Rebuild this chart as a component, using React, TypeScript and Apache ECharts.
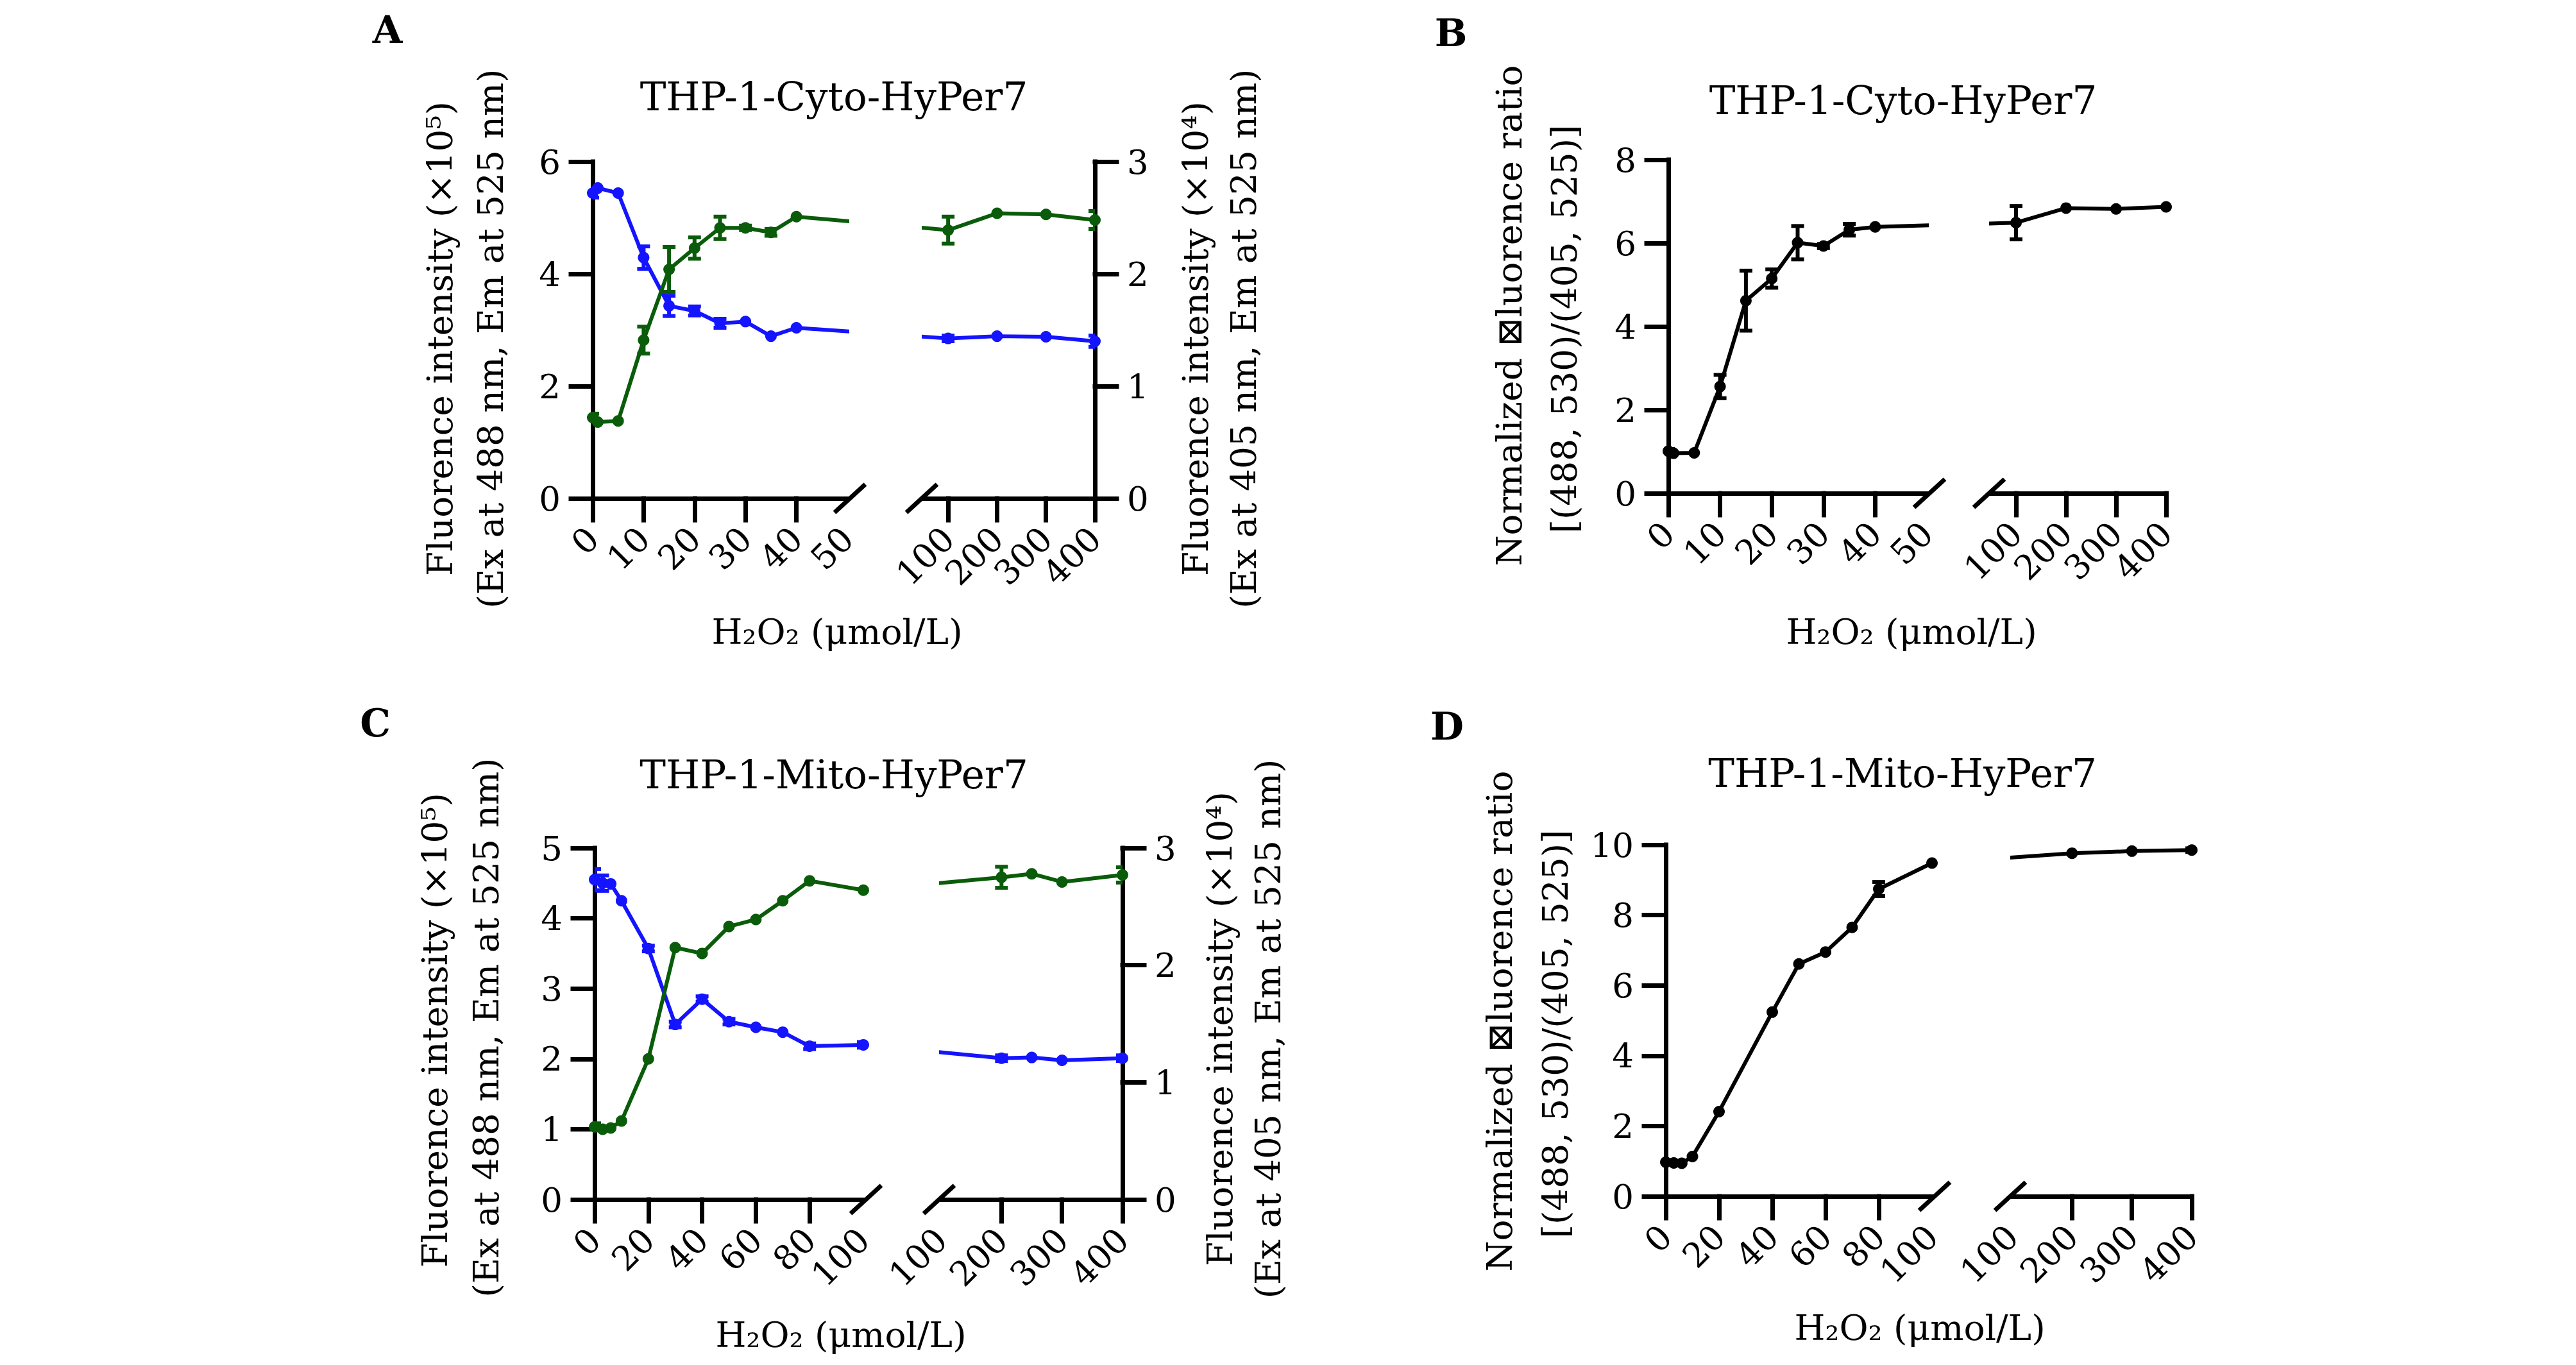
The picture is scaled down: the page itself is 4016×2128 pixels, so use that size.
import { useEffect, useRef } from 'react';
import * as echarts from 'echarts';

const BLUE = '#1414ff';
const GREEN = '#0a5c0a';
const INK = '#000000';
const SERIF = '"DejaVu Serif", "Liberation Serif", serif';

// ---- THP-1-Cyto-HyPer7: H2O2 dose (μmol/L) and readouts ----
const cytoDose = [0, 1, 5, 10, 15, 20, 25, 30, 35, 40, 100, 200, 300, 400];
// Ex 488 / Em 525 intensity, ×10^5
const cytoEx488 = [5.44, 5.53, 5.44, 4.29, 3.43, 3.34, 3.12, 3.15, 2.89, 3.04, 2.85, 2.89, 2.88, 2.8];
const cytoEx488Sd = [0.08, 0, 0, 0.2, 0.18, 0.08, 0.08, 0, 0, 0, 0.05, 0, 0, 0.1];
// Ex 405 / Em 525 intensity, ×10^4
const cytoEx405 = [0.72, 0.68, 0.69, 1.41, 2.04, 2.23, 2.41, 2.41, 2.37, 2.51, 2.39, 2.54, 2.53, 2.48];
const cytoEx405Sd = [0.035, 0, 0, 0.12, 0.2, 0.095, 0.1, 0.02, 0.03, 0, 0.12, 0, 0, 0.08];
// normalized ratio
const cytoRatio = [1.01, 0.96, 0.97, 2.56, 4.62, 5.15, 6.01, 5.93, 6.32, 6.39, 6.49, 6.84, 6.82, 6.87];
const cytoRatioSd = [0.05, 0, 0, 0.28, 0.72, 0.22, 0.4, 0.05, 0.14, 0, 0.4, 0, 0, 0];

// ---- THP-1-Mito-HyPer7 ----
const mitoDose = [0, 3, 6, 10, 20, 30, 40, 50, 60, 70, 80, 100, 200, 250, 300, 400];
const mitoEx488 = [4.55, 4.5, 4.49, 4.25, 3.57, 2.49, 2.85, 2.53, 2.45, 2.38, 2.18, 2.2, 2.01, 2.02, 1.98, 2.01];
const mitoEx488Sd = [0.15, 0.11, 0, 0, 0.04, 0.04, 0.04, 0.04, 0, 0, 0.04, 0.04, 0.04, 0, 0, 0.04];
const mitoEx405 = [0.62, 0.6, 0.61, 0.67, 1.2, 2.15, 2.1, 2.33, 2.39, 2.55, 2.72, 2.64, 2.75, 2.78, 2.71, 2.77];
const mitoEx405Sd = [0.03, 0, 0, 0, 0, 0, 0, 0, 0, 0, 0, 0, 0.09, 0, 0, 0.065];
const mitoRatioDose = [0, 3, 6, 10, 20, 40, 50, 60, 70, 80, 100, 200, 300, 400];
const mitoRatio = [0.97, 0.95, 0.94, 1.13, 2.41, 5.24, 6.61, 6.95, 7.65, 8.74, 9.48, 9.76, 9.82, 9.85];
const mitoRatioSd = [0.06, 0, 0, 0, 0, 0, 0, 0, 0, 0.2, 0, 0, 0, 0.05];

// ---- axis ticks (two segments per broken x axis) ----
const cytoLowTicks = [0, 10, 20, 30, 40];
const cytoLowLabels = [0, 10, 20, 30, 40, 50];
const cytoHighTicks = [100, 200, 300, 400];
const cytoHighLabels = [100, 200, 300, 400];
const mitoLowTicks = [0, 20, 40, 60, 80];
const mitoLowLabels = [0, 20, 40, 60, 80, 100];
const mitoHighTicks = [200, 300, 400];
const mitoHighLabels = [100, 200, 300, 400];

// ---- texts ----
const doseName = 'H₂O₂ (μmol/L)';
const ex488Name = ['Fluorence intensity (×10⁵)', '(Ex at 488 nm, Em at 525 nm)'];
const ex405Name = ['Fluorence intensity (×10⁴)', '(Ex at 405 nm, Em at 525 nm)'];
const ratioName = ['Normalized ⊠luorence ratio', '[(488, 530)/(405, 525)]'];

const AXIS_W = 7;
const TICK_LEN = 34;
const TICK_FONT = 53;
const NAME_FONT = 55;
const TITLE_FONT = 61;
const LETTER_FONT = 60;
const LINE_W = 6;
const DOT = 18;
const CAP = 10;

type Seg = { x0: number; x1: number };
type Range = { min: number; max: number; ticks: number[]; labels: number[] };
type Trace = { values: number[]; sd: number[]; color: string; side: 'left' | 'right' };
type YSpec = { max: number; step: number; name: string[]; nameAt: [number, number][] };
type Panel = {
  letter: string;
  letterAt: [number, number];
  title: string;
  titleAt: [number, number];
  xNameAt: [number, number];
  dose: number[];
  traces: Trace[];
  low: Range;
  high: Range;
  yLeft: YSpec;
  yRight?: YSpec;
  box: { top: number; bottom: number; low: Seg; high: Seg };
};

type Acc = { grid: any[]; xAxis: any[]; yAxis: any[]; series: any[]; elements: any[] };

const axisLine = { color: INK, width: AXIS_W, cap: 'square' };

function gridAt(left: number, top: number, width: number, height: number) {
  return { left, top, width, height, containLabel: false, outerBoundsMode: 'none', show: false };
}

function xAxisOf(gridIndex: number, min: number, max: number, ticks: number[], labels: number[], fmt: (v: number) => string) {
  return {
    type: 'value',
    gridIndex,
    min,
    max,
    position: 'bottom',
    axisLine: { show: true, onZero: false, lineStyle: axisLine },
    axisTick: { show: true, inside: false, length: TICK_LEN, lineStyle: axisLine, customValues: ticks },
    axisLabel: {
      show: true,
      customValues: labels,
      formatter: fmt,
      rotate: 45,
      margin: 54,
      color: INK,
      fontFamily: SERIF,
      fontSize: TICK_FONT,
    },
    splitLine: { show: false },
  };
}

function yAxisOf(gridIndex: number, max: number, step: number, position: 'left' | 'right', visible: boolean) {
  return {
    type: 'value',
    gridIndex,
    min: 0,
    max,
    interval: step,
    position,
    show: visible,
    axisLine: { show: true, onZero: false, lineStyle: axisLine },
    axisTick: { show: true, inside: false, length: TICK_LEN, lineStyle: axisLine },
    axisLabel: { margin: 50, color: INK, fontFamily: SERIF, fontSize: TICK_FONT },
    splitLine: { show: false },
  };
}

function lineSeries(xi: number, yi: number, color: string, data: number[][], z: number) {
  return {
    type: 'line',
    xAxisIndex: xi,
    yAxisIndex: yi,
    data,
    clip: true,
    symbol: 'circle',
    symbolSize: DOT,
    showSymbol: true,
    lineStyle: { color, width: LINE_W },
    itemStyle: { color },
    emphasis: { disabled: true },
    silent: true,
    z,
  };
}

function errorBarSeries(xi: number, yi: number, color: string, data: number[][], z: number) {
  return {
    type: 'custom',
    xAxisIndex: xi,
    yAxisIndex: yi,
    clip: true,
    silent: true,
    z,
    dimensions: ['dose', 'mean', 'sd'],
    encode: { x: 0, y: 1 },
    data,
    renderItem: (_params: any, api: any) => {
      const u = api.value(0);
      const m = api.value(1);
      const e = api.value(2);
      const hi = api.coord([u, m + e]);
      const lo = api.coord([u, m - e]);
      const style = { stroke: color, lineWidth: LINE_W, fill: 'none' };
      return {
        type: 'group',
        children: [
          { type: 'line', shape: { x1: hi[0], y1: hi[1], x2: lo[0], y2: lo[1] }, style },
          { type: 'line', shape: { x1: hi[0] - CAP, y1: hi[1], x2: hi[0] + CAP, y2: hi[1] }, style },
          { type: 'line', shape: { x1: lo[0] - CAP, y1: lo[1], x2: lo[0] + CAP, y2: lo[1] }, style },
        ],
      };
    },
  };
}

function textEl(text: string, x: number, y: number, size: number, rotate = false, bold = false) {
  return {
    type: 'text',
    x,
    y,
    rotation: rotate ? Math.PI / 2 : 0,
    silent: true,
    style: {
      text,
      fill: INK,
      fontFamily: SERIF,
      fontSize: size,
      fontWeight: bold ? 'bold' : 'normal',
      align: 'center',
      verticalAlign: 'middle',
    },
  };
}

function slashEl(cx: number, cy: number) {
  return {
    type: 'line',
    silent: true,
    shape: { x1: cx - 24, y1: cy + 22, x2: cx + 24, y2: cy - 22 },
    style: { stroke: INK, lineWidth: AXIS_W },
  };
}

// One panel = two grids (low and high dose segments) sharing a uniform pixel
// scale, so connecting lines run straight across the axis break.
function addPanel(p: Panel, acc: Acc) {
  const { box, low, high } = p;
  const pxPerUnit = (box.low.x1 - box.low.x0) / (low.max - low.min);
  const highStart = low.max + (box.high.x0 - box.low.x1) / pxPerUnit;
  const k = (box.high.x1 - box.high.x0) / pxPerUnit / (high.max - high.min);
  const highU = (x: number) => highStart + (x - high.min) * k;
  const highX = (u: number) => high.min + (u - highStart) / k;
  const toU = (x: number) => (x <= low.max ? x : highU(x));

  const gLow = acc.grid.length;
  const gHigh = gLow + 1;
  const h = box.bottom - box.top;
  acc.grid.push(gridAt(box.low.x0, box.top, box.low.x1 - box.low.x0, h));
  acc.grid.push(gridAt(box.high.x0, box.top, box.high.x1 - box.high.x0, h));

  const xLow = acc.xAxis.length;
  const xHigh = xLow + 1;
  acc.xAxis.push(xAxisOf(gLow, low.min, low.max, low.ticks, low.labels, (v) => String(Math.round(v))));
  acc.xAxis.push(
    xAxisOf(gHigh, highStart, highU(high.max), high.ticks.map(highU), high.labels.map(highU), (v) =>
      String(Math.round(highX(v))),
    ),
  );

  const yLeftIdx = [acc.yAxis.length, acc.yAxis.length + 1];
  acc.yAxis.push(yAxisOf(gLow, p.yLeft.max, p.yLeft.step, 'left', true));
  acc.yAxis.push(yAxisOf(gHigh, p.yLeft.max, p.yLeft.step, 'left', false));
  let yRightIdx = yLeftIdx;
  if (p.yRight) {
    yRightIdx = [acc.yAxis.length, acc.yAxis.length + 1];
    acc.yAxis.push(yAxisOf(gLow, p.yRight.max, p.yRight.step, 'right', false));
    acc.yAxis.push(yAxisOf(gHigh, p.yRight.max, p.yRight.step, 'right', true));
  }

  p.traces.forEach((t, ti) => {
    const yi = t.side === 'left' ? yLeftIdx : yRightIdx;
    const pts = p.dose.map((x, i) => [toU(x), t.values[i]]);
    const bars = p.dose.map((x, i) => ({ x, row: [toU(x), t.values[i], t.sd[i]] })).filter((b) => b.row[2] > 0);
    const z = 3 + ti;
    acc.series.push(lineSeries(xLow, yi[0], t.color, pts, z));
    acc.series.push(errorBarSeries(xLow, yi[0], t.color, bars.filter((b) => b.x <= low.max).map((b) => b.row), z));
    acc.series.push(lineSeries(xHigh, yi[1], t.color, pts, z));
    acc.series.push(errorBarSeries(xHigh, yi[1], t.color, bars.filter((b) => b.x > low.max).map((b) => b.row), z));
  });

  acc.elements.push(slashEl(box.low.x1 + 4, box.bottom));
  acc.elements.push(slashEl(box.high.x0 - 3, box.bottom));
  acc.elements.push(textEl(p.letter, p.letterAt[0], p.letterAt[1], LETTER_FONT, false, true));
  acc.elements.push(textEl(p.title, p.titleAt[0], p.titleAt[1], TITLE_FONT));
  acc.elements.push(textEl(doseName, p.xNameAt[0], p.xNameAt[1], NAME_FONT));
  [p.yLeft, p.yRight].forEach((ys) => {
    if (!ys) return;
    ys.name.forEach((line, i) => acc.elements.push(textEl(line, ys.nameAt[i][0], ys.nameAt[i][1], NAME_FONT, true)));
  });
}

const panels: Panel[] = [
  {
    letter: 'A',
    letterAt: [604, 46],
    title: 'THP-1-Cyto-HyPer7',
    titleAt: [1300, 150],
    xNameAt: [1305, 985],
    dose: cytoDose,
    traces: [
      { values: cytoEx488, sd: cytoEx488Sd, color: BLUE, side: 'left' },
      { values: cytoEx405, sd: cytoEx405Sd, color: GREEN, side: 'right' },
    ],
    low: { min: 0, max: 50, ticks: cytoLowTicks, labels: cytoLowLabels },
    high: { min: 50, max: 400, ticks: cytoHighTicks, labels: cytoHighLabels },
    yLeft: { max: 6, step: 2, name: ex488Name, nameAt: [[686, 528], [765, 528]] },
    yRight: { max: 3, step: 1, name: ex405Name, nameAt: [[1864, 528], [1939, 528]] },
    box: { top: 252, bottom: 777, low: { x0: 924, x1: 1321 }, high: { x0: 1440, x1: 1707 } },
  },
  {
    letter: 'B',
    letterAt: [2262, 51],
    title: 'THP-1-Cyto-HyPer7',
    titleAt: [2967, 156],
    xNameAt: [2980, 985],
    dose: cytoDose,
    traces: [{ values: cytoRatio, sd: cytoRatioSd, color: INK, side: 'left' }],
    low: { min: 0, max: 50, ticks: cytoLowTicks, labels: cytoLowLabels },
    high: { min: 50, max: 400, ticks: cytoHighTicks, labels: cytoHighLabels },
    yLeft: { max: 8, step: 2, name: ratioName, nameAt: [[2353, 492], [2439, 513]] },
    box: { top: 249, bottom: 769, low: { x0: 2601, x1: 3004 }, high: { x0: 3104, x1: 3377 } },
  },
  {
    letter: 'C',
    letterAt: [585, 1127],
    title: 'THP-1-Mito-HyPer7',
    titleAt: [1300, 1207],
    xNameAt: [1311, 2081],
    dose: mitoDose,
    traces: [
      { values: mitoEx488, sd: mitoEx488Sd, color: BLUE, side: 'left' },
      { values: mitoEx405, sd: mitoEx405Sd, color: GREEN, side: 'right' },
    ],
    low: { min: 0, max: 100, ticks: mitoLowTicks, labels: mitoLowLabels },
    high: { min: 100, max: 400, ticks: mitoHighTicks, labels: mitoHighLabels },
    yLeft: { max: 5, step: 1, name: ex488Name, nameAt: [[678, 1606], [758, 1602]] },
    yRight: { max: 3, step: 1, name: ex405Name, nameAt: [[1902, 1604], [1977, 1604]] },
    box: { top: 1322, bottom: 1870, low: { x0: 927, x1: 1346 }, high: { x0: 1467, x1: 1750 } },
  },
  {
    letter: 'D',
    letterAt: [2256, 1132],
    title: 'THP-1-Mito-HyPer7',
    titleAt: [2966, 1205],
    xNameAt: [2993, 2070],
    dose: mitoRatioDose,
    traces: [{ values: mitoRatio, sd: mitoRatioSd, color: INK, side: 'left' }],
    low: { min: 0, max: 100, ticks: mitoLowTicks, labels: mitoLowLabels },
    high: { min: 100, max: 400, ticks: mitoHighTicks, labels: mitoHighLabels },
    yLeft: { max: 10, step: 2, name: ratioName, nameAt: [[2338, 1592], [2425, 1612]] },
    box: { top: 1317, bottom: 1865, low: { x0: 2597, x1: 3012 }, high: { x0: 3137, x1: 3417 } },
  },
];

function buildOption() {
  const acc: Acc = { grid: [], xAxis: [], yAxis: [], series: [], elements: [] };
  panels.forEach((p) => addPanel(p, acc));
  return {
    animation: false,
    backgroundColor: '#ffffff',
    grid: acc.grid,
    xAxis: acc.xAxis,
    yAxis: acc.yAxis,
    series: acc.series,
    graphic: { elements: acc.elements },
  };
}

export default function App() {
  const ref = useRef<HTMLDivElement>(null);
  useEffect(() => {
    if (!ref.current) return;
    const chart = echarts.init(ref.current, undefined, { renderer: 'svg' });
    chart.setOption(buildOption());
    return () => chart.dispose();
  }, []);
  return (
    <div
      ref={ref}
      style={{ position: 'fixed', left: 0, top: 0, width: 4016, height: 2128, background: '#ffffff' }}
    />
  );
}
